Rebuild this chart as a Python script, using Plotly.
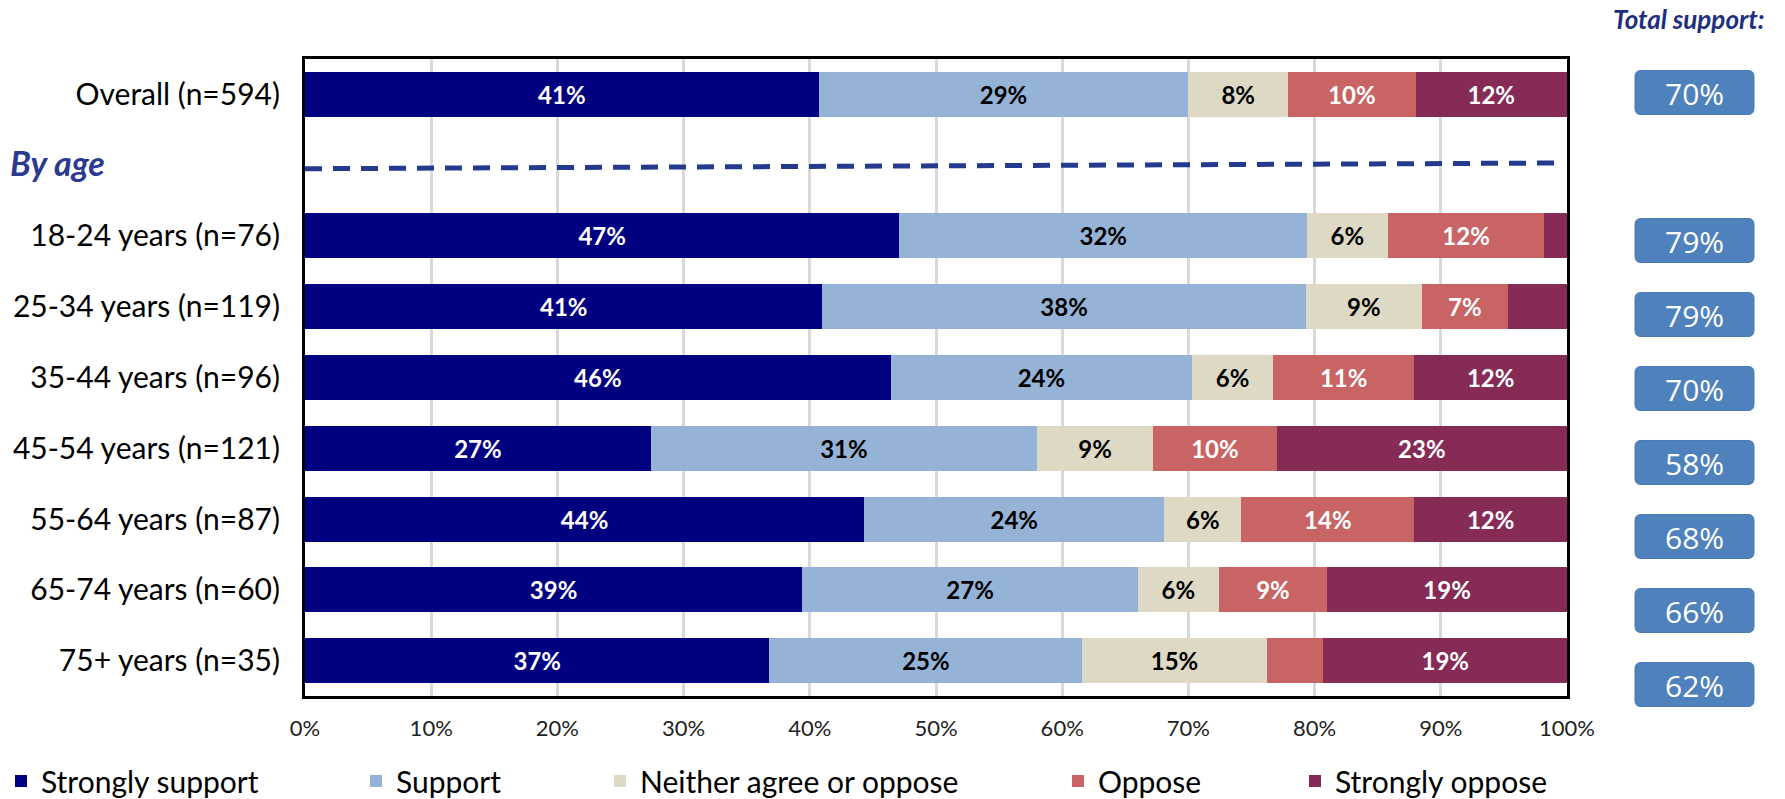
import plotly.graph_objects as go

# ---- data -------------------------------------------------------------
categories = [
    "Overall (n=594)",
    "18-24 years (n=76)",
    "25-34 years (n=119)",
    "35-44 years (n=96)",
    "45-54 years (n=121)",
    "55-64 years (n=87)",
    "65-74 years (n=60)",
    "75+ years (n=35)",
]
strongly_support = [40.7, 47.1, 41.0, 46.4, 27.4, 44.3, 39.4, 36.8]
support = [29.3, 32.3, 38.3, 23.9, 30.6, 23.8, 26.6, 24.8]
neither = [7.9, 6.4, 9.2, 6.4, 9.2, 6.1, 6.4, 14.6]
oppose = [10.1, 12.4, 6.8, 11.2, 9.8, 13.7, 8.6, 4.5]
strongly_oppose = [12.0, 1.8, 4.7, 12.1, 23.0, 12.1, 19.0, 19.3]

series_names = ["Strongly support", "Support", "Neither agree or oppose",
                "Oppose", "Strongly oppose"]
series_values = [strongly_support, support, neither, oppose, strongly_oppose]
series_colors = ["#000080", "#95B3D7", "#DDD9C4", "#C96464", "#862B56"]
text_colors = ["white", "black", "black", "white", "white"]

# ---- layout geometry (pixels) ---------------------------------------
W, H = 1785, 799
L, R, T, B = 305, 1567, 59, 696          # plot area edges


def px_x(x):
    return (x - L) / (R - L)


def px_y(y):
    return (B - y) / (B - T)


# Overall sits in the first row, a blank separator row, then the age groups
rows = [0] + list(range(2, 2 + len(categories) - 1))

FONT = "Lato, 'Open Sans', sans-serif"

fig = go.Figure()
legend_ids = ["legend", "legend2", "legend3", "legend4", "legend5"]
for name, vals, col, tcol, lid in zip(series_names, series_values,
                                      series_colors, text_colors, legend_ids):
    labels = [f"{v:.0f}%" if v >= 5 else "" for v in vals]
    fig.add_trace(go.Bar(
        name=name, x=vals, y=rows, orientation="h",
        marker=dict(color=col, line=dict(width=0)),
        text=labels, texttemplate="%{text}",
        textposition="inside", insidetextanchor="middle", textangle=0,
        constraintext="none",
        textfont=dict(family=FONT, size=24, color=tcol, weight="bold"),
        legend=lid, hoverinfo="skip",
    ))

# legends spread along the bottom, one per series (page-relative placement)
legend_text_starts = [42, 397, 641, 1099, 1336]
legend_layout = {}
for lid, xs in zip(legend_ids, legend_text_starts):
    legend_layout[lid] = dict(
        xref="container", yref="container",
        x=max(xs - 41, 0) / W, y=(H - 781) / H,
        xanchor="left", yanchor="middle",
        orientation="h", bgcolor="rgba(0,0,0,0)", borderwidth=0,
        font=dict(family=FONT, size=30, color="black"),
        itemclick=False, itemdoubleclick=False,
    )

shapes = []
annotations = []

# dashed separator under "By age"
shapes.append(dict(type="line", xref="x", yref="y", x0=0, x1=99.0,
                   y0=1.05, y1=0.97,
                   line=dict(color="#233A8F", width=5, dash="17px,11px")))

annotations.append(dict(text="<b><i>By age</i></b>", xref="paper", yref="y",
                        x=px_x(8), y=0.96, xanchor="left", yanchor="middle",
                        showarrow=False,
                        font=dict(family=FONT, size=34, color="#2B3A90")))

annotations.append(dict(text="<b><i>Total support:</i></b>", xref="paper",
                        yref="paper", x=px_x(1766), y=px_y(19),
                        xanchor="right", yanchor="middle", showarrow=False,
                        font=dict(family=FONT, size=26, color="#1F2F80")))

# total-support badges to the right of the plot
def rounded_box(x0, y0, x1, y1, r):
    pts = [
        ("M", (x0 + r, y0)), ("L", (x1 - r, y0)),
        ("Q", (x1, y0), (x1, y0 + r)), ("L", (x1, y1 - r)),
        ("Q", (x1, y1), (x1 - r, y1)), ("L", (x0 + r, y1)),
        ("Q", (x0, y1), (x0, y1 - r)), ("L", (x0, y0 + r)),
        ("Q", (x0, y0), (x0 + r, y0)),
    ]
    out = []
    for cmd, *coords in pts:
        out.append(cmd + " ".join(f"{px_x(a):.5f},{px_y(b):.5f}" for a, b in coords))
    return " ".join(out) + " Z"


totals = [ss + s for ss, s in zip(strongly_support, support)]
box_x0, box_x1, box_h = 1635, 1754, 44
box_centers = [92.5] + [240.5 + 74 * i for i in range(len(categories) - 1)]
for tot, cy in zip(totals, box_centers):
    shapes.append(dict(type="path", xref="paper", yref="paper",
                       path=rounded_box(box_x0, cy - box_h / 2, box_x1,
                                        cy + box_h / 2, 6),
                       fillcolor="#4F81BD", line=dict(color="#4A7AB5", width=1),
                       layer="above"))
    annotations.append(dict(text=f"{round(tot)}%", xref="paper", yref="paper",
                            x=px_x((box_x0 + box_x1) / 2), y=px_y(cy + 1),
                            xanchor="center", yanchor="middle", showarrow=False,
                            font=dict(family="'Open Sans', sans-serif", size=30,
                                      color="white")))

fig.update_layout(
    width=W, height=H, autosize=False,
    margin=dict(l=L, r=W - R, t=T, b=H - B, pad=0),
    barmode="stack", bargap=0.365,
    paper_bgcolor="white", plot_bgcolor="white",
    showlegend=True,
    shapes=shapes, annotations=annotations,
    xaxis=dict(range=[0, 100], dtick=10, ticksuffix="%",
               showgrid=True, gridcolor="#D9D9D9", gridwidth=3,
               zeroline=False, showline=True, mirror=True,
               linecolor="black", linewidth=3, ticks="",
               ticklabelstandoff=11,
               tickfont=dict(family=FONT, size=22, color="#222222")),
    yaxis=dict(range=[8.5, -0.5], tickvals=rows, ticktext=categories,
               showgrid=False, zeroline=False, showline=True, mirror=True,
               linecolor="black", linewidth=3, ticks="",
               ticklabelstandoff=16,
               tickfont=dict(family=FONT, size=30, color="black")),
    **legend_layout,
)

fig.write_html("out.html")
